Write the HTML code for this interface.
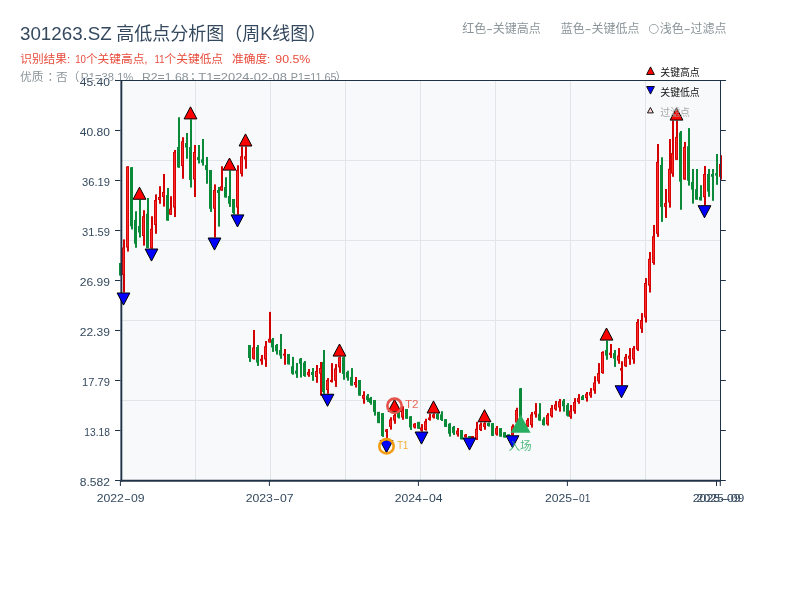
<!DOCTYPE html>
<html lang="zh"><head><meta charset="utf-8"><title>301263.SZ</title>
<style>
html,body{margin:0;padding:0;background:#fff;}
body{width:800px;height:600px;overflow:hidden;position:relative;font-family:"Liberation Sans","Noto Sans CJK SC",sans-serif;}
svg{position:absolute;left:0;top:0;}
text{font-family:"Liberation Sans","Noto Sans CJK SC",sans-serif;}
</style></head><body>
<svg width="800" height="600" viewBox="0 0 800 600">

<text y="39.6" font-size="18" fill="#34495e"><tspan x="20" textLength="91.8" lengthAdjust="spacingAndGlyphs">301263.SZ</tspan> <tspan x="116.2">高低点分析图（周K线图）</tspan></text>
<text y="63.4" font-size="11.7" fill="#e74c3c"><tspan x="20.2">识别结果:</tspan> <tspan x="75.2" textLength="10.8" lengthAdjust="spacingAndGlyphs">10</tspan><tspan x="85.9">个关键高点,</tspan> <tspan x="154.6" textLength="9.8" lengthAdjust="spacingAndGlyphs">11</tspan><tspan x="164.6">个关键低点</tspan>  <tspan x="232.0">准确度:</tspan> <tspan x="275.3" textLength="35" lengthAdjust="spacingAndGlyphs">90.5%</tspan></text>
<text y="80.8" font-size="11.7" fill="#8a9499"><tspan x="20">优质</tspan><tspan x="44.6" lang="zh-TW" font-family="Noto Sans CJK TC, sans-serif">：</tspan><tspan x="56.1">否（</tspan><tspan x="80.8" textLength="52.5" lengthAdjust="spacingAndGlyphs">R1=38.1%</tspan>  <tspan x="142" textLength="46.5" lengthAdjust="spacingAndGlyphs">R2=1.68</tspan><tspan x="187.0" lang="zh-TW" font-family="Noto Sans CJK TC, sans-serif">；</tspan><tspan x="198.3" textLength="88.5" lengthAdjust="spacingAndGlyphs">T1=2024-02-08</tspan> <tspan x="290.8" textLength="45.8" lengthAdjust="spacingAndGlyphs">P1=11.65</tspan><tspan x="335.3">）</tspan></text>
<text y="32.8" font-size="12" fill="#8a9499"><tspan x="462.2">红色</tspan><tspan textLength="6.6" lengthAdjust="spacingAndGlyphs">-</tspan><tspan>关键高点</tspan> <tspan x="560.8">蓝色</tspan><tspan textLength="6.6" lengthAdjust="spacingAndGlyphs">-</tspan><tspan>关键低点</tspan> <tspan x="648.0" y="31.9" font-family="DejaVu Sans, sans-serif" font-size="12.5">○</tspan><tspan y="32.8"> </tspan><tspan x="659.8">浅色</tspan><tspan textLength="6.8" lengthAdjust="spacingAndGlyphs">-</tspan><tspan>过滤点</tspan></text>
<rect x="120.4" y="80" width="600.6" height="401" fill="#f8f9fa"/>
<line x1="195.5" y1="81" x2="195.5" y2="480" stroke="#e1e5ea" stroke-width="1"/>
<line x1="270.5" y1="81" x2="270.5" y2="480" stroke="#e1e5ea" stroke-width="1"/>
<line x1="345.5" y1="81" x2="345.5" y2="480" stroke="#e1e5ea" stroke-width="1"/>
<line x1="420.5" y1="81" x2="420.5" y2="480" stroke="#e1e5ea" stroke-width="1"/>
<line x1="495.5" y1="81" x2="495.5" y2="480" stroke="#e1e5ea" stroke-width="1"/>
<line x1="570.5" y1="81" x2="570.5" y2="480" stroke="#e1e5ea" stroke-width="1"/>
<line x1="645.5" y1="81" x2="645.5" y2="480" stroke="#e1e5ea" stroke-width="1"/>
<line x1="122" y1="160.5" x2="720" y2="160.5" stroke="#e1e5ea" stroke-width="1"/>
<line x1="122" y1="240.5" x2="720" y2="240.5" stroke="#e1e5ea" stroke-width="1"/>
<line x1="122" y1="320.5" x2="720" y2="320.5" stroke="#e1e5ea" stroke-width="1"/>
<line x1="122" y1="400.5" x2="720" y2="400.5" stroke="#e1e5ea" stroke-width="1"/>
<g>
<rect x="120" y="263.00" width="2" height="12.60" fill="#0b8a3a"/>
<rect x="119" y="263.00" width="3" height="12.60" fill="#0b8a3a"/>
<rect x="123" y="239.40" width="2" height="53.10" fill="#d20000"/>
<rect x="122" y="247.50" width="3" height="27.50" fill="#d20000"/>
<rect x="122.9" y="248.50" width="1.2" height="25.50" fill="#fa2a2a"/>
<rect x="127" y="166.25" width="2" height="85.25" fill="#d20000"/>
<rect x="126" y="166.50" width="3" height="81.00" fill="#d20000"/>
<rect x="126.9" y="167.50" width="1.2" height="79.00" fill="#fa2a2a"/>
<rect x="131" y="167.25" width="2" height="62.15" fill="#0b8a3a"/>
<rect x="130" y="167.25" width="3" height="59.00" fill="#0b8a3a"/>
<rect x="135" y="211.25" width="2" height="36.50" fill="#0b8a3a"/>
<rect x="134" y="220.00" width="3" height="23.75" fill="#0b8a3a"/>
<rect x="139" y="199.75" width="2" height="37.75" fill="#0b8a3a"/>
<rect x="138" y="226.00" width="3" height="6.50" fill="#0b8a3a"/>
<rect x="143" y="210.25" width="2" height="35.35" fill="#d20000"/>
<rect x="142" y="216.25" width="3" height="19.75" fill="#d20000"/>
<rect x="142.9" y="217.25" width="1.2" height="17.75" fill="#fa2a2a"/>
<rect x="147" y="198.00" width="2" height="50.00" fill="#0b8a3a"/>
<rect x="146" y="213.75" width="3" height="34.25" fill="#0b8a3a"/>
<rect x="151" y="216.25" width="2" height="32.25" fill="#d20000"/>
<rect x="150" y="228.75" width="3" height="19.75" fill="#d20000"/>
<rect x="150.9" y="229.75" width="1.2" height="17.75" fill="#fa2a2a"/>
<rect x="155" y="194.40" width="2" height="39.35" fill="#d20000"/>
<rect x="154" y="200.00" width="3" height="25.00" fill="#d20000"/>
<rect x="154.9" y="201.00" width="1.2" height="23.00" fill="#fa2a2a"/>
<rect x="159" y="186.25" width="2" height="17.50" fill="#d20000"/>
<rect x="158" y="197.00" width="3" height="3.00" fill="#d20000"/>
<rect x="158.9" y="198.00" width="1.2" height="1.00" fill="#fa2a2a"/>
<rect x="163" y="174.00" width="2" height="32.60" fill="#d20000"/>
<rect x="162" y="192.00" width="3" height="5.00" fill="#d20000"/>
<rect x="162.9" y="193.00" width="1.2" height="3.00" fill="#fa2a2a"/>
<rect x="167" y="188.00" width="2" height="32.60" fill="#0b8a3a"/>
<rect x="166" y="195.00" width="3" height="25.60" fill="#0b8a3a"/>
<rect x="170" y="196.25" width="2" height="18.50" fill="#d20000"/>
<rect x="169" y="208.75" width="3" height="6.00" fill="#d20000"/>
<rect x="169.9" y="209.75" width="1.2" height="4.00" fill="#fa2a2a"/>
<rect x="174" y="150.00" width="2" height="67.00" fill="#d20000"/>
<rect x="173" y="152.00" width="3" height="55.50" fill="#d20000"/>
<rect x="173.9" y="153.00" width="1.2" height="53.50" fill="#fa2a2a"/>
<rect x="178" y="117.25" width="2" height="50.50" fill="#0b8a3a"/>
<rect x="177" y="147.00" width="3" height="20.50" fill="#0b8a3a"/>
<rect x="182" y="137.25" width="2" height="41.50" fill="#d20000"/>
<rect x="181" y="141.25" width="3" height="24.75" fill="#d20000"/>
<rect x="181.9" y="142.25" width="1.2" height="22.75" fill="#fa2a2a"/>
<rect x="186" y="133.00" width="2" height="25.75" fill="#0b8a3a"/>
<rect x="185" y="143.00" width="3" height="4.50" fill="#0b8a3a"/>
<rect x="190" y="119.40" width="2" height="68.10" fill="#0b8a3a"/>
<rect x="189" y="147.00" width="3" height="33.00" fill="#0b8a3a"/>
<rect x="194" y="145.00" width="2" height="52.00" fill="#d20000"/>
<rect x="193" y="152.00" width="3" height="27.40" fill="#d20000"/>
<rect x="193.9" y="153.00" width="1.2" height="25.40" fill="#fa2a2a"/>
<rect x="198" y="145.00" width="2" height="18.50" fill="#0b8a3a"/>
<rect x="197" y="157.00" width="3" height="3.00" fill="#0b8a3a"/>
<rect x="202" y="139.00" width="2" height="26.60" fill="#0b8a3a"/>
<rect x="201" y="159.40" width="3" height="3.35" fill="#0b8a3a"/>
<rect x="206" y="157.00" width="2" height="26.75" fill="#0b8a3a"/>
<rect x="205" y="165.00" width="3" height="5.00" fill="#0b8a3a"/>
<rect x="210" y="170.00" width="2" height="41.90" fill="#0b8a3a"/>
<rect x="209" y="170.00" width="3" height="38.75" fill="#0b8a3a"/>
<rect x="214" y="184.40" width="2" height="53.10" fill="#d20000"/>
<rect x="213" y="190.00" width="3" height="18.75" fill="#d20000"/>
<rect x="213.9" y="191.00" width="1.2" height="16.75" fill="#fa2a2a"/>
<rect x="218" y="187.00" width="2" height="39.60" fill="#0b8a3a"/>
<rect x="217" y="190.00" width="3" height="3.00" fill="#0b8a3a"/>
<rect x="221" y="166.25" width="2" height="24.35" fill="#d20000"/>
<rect x="220" y="186.25" width="3" height="4.35" fill="#d20000"/>
<rect x="220.9" y="187.25" width="1.2" height="2.35" fill="#fa2a2a"/>
<rect x="225" y="177.25" width="2" height="20.25" fill="#0b8a3a"/>
<rect x="224" y="187.00" width="3" height="10.50" fill="#0b8a3a"/>
<rect x="229" y="170.60" width="2" height="36.30" fill="#0b8a3a"/>
<rect x="228" y="196.00" width="3" height="7.75" fill="#0b8a3a"/>
<rect x="233" y="199.00" width="2" height="15.40" fill="#0b8a3a"/>
<rect x="232" y="199.00" width="3" height="14.00" fill="#0b8a3a"/>
<rect x="237" y="165.25" width="2" height="49.15" fill="#d20000"/>
<rect x="236" y="170.00" width="3" height="37.50" fill="#d20000"/>
<rect x="236.9" y="171.00" width="1.2" height="35.50" fill="#fa2a2a"/>
<rect x="241" y="146.50" width="2" height="30.00" fill="#d20000"/>
<rect x="240" y="156.25" width="3" height="17.50" fill="#d20000"/>
<rect x="240.9" y="157.25" width="1.2" height="15.50" fill="#fa2a2a"/>
<rect x="245" y="146.50" width="2" height="22.25" fill="#d20000"/>
<rect x="244" y="156.25" width="3" height="3.15" fill="#d20000"/>
<rect x="244.9" y="157.25" width="1.2" height="1.15" fill="#fa2a2a"/>
<rect x="249" y="345.00" width="2" height="16.90" fill="#0b8a3a"/>
<rect x="248" y="345.00" width="3" height="13.00" fill="#0b8a3a"/>
<rect x="253" y="330.00" width="2" height="29.60" fill="#d20000"/>
<rect x="252" y="347.50" width="3" height="11.25" fill="#d20000"/>
<rect x="252.9" y="348.50" width="1.2" height="9.25" fill="#fa2a2a"/>
<rect x="257" y="345.00" width="2" height="20.90" fill="#0b8a3a"/>
<rect x="256" y="347.00" width="3" height="15.50" fill="#0b8a3a"/>
<rect x="261" y="355.00" width="2" height="9.75" fill="#d20000"/>
<rect x="260" y="358.75" width="3" height="2.50" fill="#d20000"/>
<rect x="260.9" y="359.75" width="1.2" height="0.50" fill="#fa2a2a"/>
<rect x="265" y="341.00" width="2" height="25.90" fill="#d20000"/>
<rect x="264" y="346.25" width="3" height="13.15" fill="#d20000"/>
<rect x="264.9" y="347.25" width="1.2" height="11.15" fill="#fa2a2a"/>
<rect x="269" y="311.90" width="2" height="30.60" fill="#d20000"/>
<rect x="268" y="338.75" width="3" height="3.75" fill="#d20000"/>
<rect x="268.9" y="339.75" width="1.2" height="1.75" fill="#fa2a2a"/>
<rect x="272" y="338.00" width="2" height="13.90" fill="#0b8a3a"/>
<rect x="271" y="339.40" width="3" height="8.10" fill="#0b8a3a"/>
<rect x="276" y="344.00" width="2" height="10.60" fill="#0b8a3a"/>
<rect x="275" y="345.00" width="3" height="6.25" fill="#0b8a3a"/>
<rect x="280" y="334.00" width="2" height="24.75" fill="#0b8a3a"/>
<rect x="279" y="350.00" width="3" height="5.60" fill="#0b8a3a"/>
<rect x="284" y="349.00" width="2" height="15.75" fill="#d20000"/>
<rect x="283" y="353.75" width="3" height="1.85" fill="#d20000"/>
<rect x="288" y="354.00" width="2" height="10.40" fill="#0b8a3a"/>
<rect x="287" y="354.00" width="3" height="10.40" fill="#0b8a3a"/>
<rect x="292" y="356.90" width="2" height="17.85" fill="#0b8a3a"/>
<rect x="291" y="366.25" width="3" height="7.50" fill="#0b8a3a"/>
<rect x="296" y="363.00" width="2" height="14.90" fill="#0b8a3a"/>
<rect x="295" y="370.60" width="3" height="3.15" fill="#0b8a3a"/>
<rect x="300" y="358.00" width="2" height="19.50" fill="#0b8a3a"/>
<rect x="299" y="358.75" width="3" height="5.00" fill="#0b8a3a"/>
<rect x="304" y="361.00" width="2" height="15.80" fill="#0b8a3a"/>
<rect x="303" y="362.50" width="3" height="13.50" fill="#0b8a3a"/>
<rect x="308" y="369.00" width="2" height="7.80" fill="#d20000"/>
<rect x="307" y="372.00" width="3" height="3.20" fill="#d20000"/>
<rect x="307.9" y="373.00" width="1.2" height="1.20" fill="#fa2a2a"/>
<rect x="312" y="368.00" width="2" height="12.80" fill="#0b8a3a"/>
<rect x="311" y="372.00" width="3" height="3.00" fill="#0b8a3a"/>
<rect x="316" y="365.00" width="2" height="17.80" fill="#d20000"/>
<rect x="315" y="371.00" width="3" height="6.00" fill="#d20000"/>
<rect x="315.9" y="372.00" width="1.2" height="4.00" fill="#fa2a2a"/>
<rect x="320" y="362.00" width="2" height="33.60" fill="#d20000"/>
<rect x="319" y="368.00" width="3" height="5.75" fill="#d20000"/>
<rect x="319.9" y="369.00" width="1.2" height="3.75" fill="#fa2a2a"/>
<rect x="323" y="350.00" width="2" height="43.75" fill="#0b8a3a"/>
<rect x="322" y="362.00" width="3" height="30.00" fill="#0b8a3a"/>
<rect x="327" y="378.10" width="2" height="15.65" fill="#d20000"/>
<rect x="326" y="380.00" width="3" height="10.00" fill="#d20000"/>
<rect x="326.9" y="381.00" width="1.2" height="8.00" fill="#fa2a2a"/>
<rect x="331" y="363.10" width="2" height="19.40" fill="#d20000"/>
<rect x="330" y="380.00" width="3" height="2.00" fill="#d20000"/>
<rect x="335" y="364.10" width="2" height="22.80" fill="#d20000"/>
<rect x="334" y="368.50" width="3" height="12.20" fill="#d20000"/>
<rect x="334.9" y="369.50" width="1.2" height="10.20" fill="#fa2a2a"/>
<rect x="339" y="356.60" width="2" height="16.15" fill="#d20000"/>
<rect x="338" y="357.20" width="3" height="10.20" fill="#d20000"/>
<rect x="338.9" y="358.20" width="1.2" height="8.20" fill="#fa2a2a"/>
<rect x="343" y="356.60" width="2" height="23.15" fill="#0b8a3a"/>
<rect x="342" y="357.20" width="3" height="16.80" fill="#0b8a3a"/>
<rect x="347" y="370.70" width="2" height="10.00" fill="#0b8a3a"/>
<rect x="346" y="372.00" width="3" height="5.70" fill="#0b8a3a"/>
<rect x="351" y="368.10" width="2" height="17.50" fill="#0b8a3a"/>
<rect x="350" y="377.00" width="3" height="8.60" fill="#0b8a3a"/>
<rect x="355" y="377.00" width="2" height="10.50" fill="#d20000"/>
<rect x="354" y="382.00" width="3" height="3.00" fill="#d20000"/>
<rect x="354.9" y="383.00" width="1.2" height="1.00" fill="#fa2a2a"/>
<rect x="359" y="380.00" width="2" height="15.60" fill="#0b8a3a"/>
<rect x="358" y="380.00" width="3" height="15.60" fill="#0b8a3a"/>
<rect x="363" y="391.25" width="2" height="12.50" fill="#d20000"/>
<rect x="362" y="395.00" width="3" height="3.75" fill="#d20000"/>
<rect x="362.9" y="396.00" width="1.2" height="1.75" fill="#fa2a2a"/>
<rect x="367" y="394.00" width="2" height="7.90" fill="#0b8a3a"/>
<rect x="366" y="395.60" width="3" height="4.40" fill="#0b8a3a"/>
<rect x="370" y="396.90" width="2" height="7.85" fill="#0b8a3a"/>
<rect x="369" y="398.00" width="3" height="5.00" fill="#0b8a3a"/>
<rect x="374" y="400.00" width="2" height="15.60" fill="#0b8a3a"/>
<rect x="373" y="400.00" width="3" height="11.90" fill="#0b8a3a"/>
<rect x="378" y="411.90" width="2" height="11.20" fill="#0b8a3a"/>
<rect x="377" y="411.90" width="3" height="11.20" fill="#0b8a3a"/>
<rect x="382" y="413.10" width="2" height="23.80" fill="#0b8a3a"/>
<rect x="381" y="413.10" width="3" height="22.90" fill="#0b8a3a"/>
<rect x="386" y="429.00" width="2" height="11.10" fill="#d20000"/>
<rect x="385" y="429.40" width="3" height="2.50" fill="#d20000"/>
<rect x="385.9" y="430.40" width="1.2" height="0.50" fill="#fa2a2a"/>
<rect x="390" y="417.25" width="2" height="12.35" fill="#d20000"/>
<rect x="389" y="419.40" width="3" height="7.50" fill="#d20000"/>
<rect x="389.9" y="420.40" width="1.2" height="5.50" fill="#fa2a2a"/>
<rect x="394" y="412.00" width="2" height="11.75" fill="#d20000"/>
<rect x="393" y="415.00" width="3" height="5.60" fill="#d20000"/>
<rect x="393.9" y="416.00" width="1.2" height="3.60" fill="#fa2a2a"/>
<rect x="398" y="410.60" width="2" height="7.90" fill="#0b8a3a"/>
<rect x="397" y="412.00" width="3" height="5.50" fill="#0b8a3a"/>
<rect x="402" y="406.25" width="2" height="13.50" fill="#d20000"/>
<rect x="401" y="409.40" width="3" height="8.10" fill="#d20000"/>
<rect x="401.9" y="410.40" width="1.2" height="6.10" fill="#fa2a2a"/>
<rect x="406" y="409.00" width="2" height="9.75" fill="#0b8a3a"/>
<rect x="405" y="409.00" width="3" height="9.75" fill="#0b8a3a"/>
<rect x="410" y="416.25" width="2" height="13.75" fill="#0b8a3a"/>
<rect x="409" y="416.25" width="3" height="11.25" fill="#0b8a3a"/>
<rect x="414" y="423.10" width="2" height="5.40" fill="#d20000"/>
<rect x="413" y="423.75" width="3" height="3.75" fill="#d20000"/>
<rect x="413.9" y="424.75" width="1.2" height="1.75" fill="#fa2a2a"/>
<rect x="418" y="421.90" width="2" height="6.85" fill="#0b8a3a"/>
<rect x="417" y="421.90" width="3" height="6.85" fill="#0b8a3a"/>
<rect x="421" y="424.10" width="2" height="7.40" fill="#d20000"/>
<rect x="420" y="427.50" width="3" height="3.10" fill="#d20000"/>
<rect x="420.9" y="428.50" width="1.2" height="1.10" fill="#fa2a2a"/>
<rect x="425" y="418.75" width="2" height="11.85" fill="#d20000"/>
<rect x="424" y="421.25" width="3" height="8.75" fill="#d20000"/>
<rect x="424.9" y="422.25" width="1.2" height="6.75" fill="#fa2a2a"/>
<rect x="429" y="413.75" width="2" height="6.85" fill="#d20000"/>
<rect x="428" y="417.50" width="3" height="2.50" fill="#d20000"/>
<rect x="428.9" y="418.50" width="1.2" height="0.50" fill="#fa2a2a"/>
<rect x="433" y="413.50" width="2" height="5.00" fill="#d20000"/>
<rect x="432" y="414.40" width="3" height="3.10" fill="#d20000"/>
<rect x="432.9" y="415.40" width="1.2" height="1.10" fill="#fa2a2a"/>
<rect x="437" y="413.50" width="2" height="6.25" fill="#0b8a3a"/>
<rect x="436" y="414.00" width="3" height="5.00" fill="#0b8a3a"/>
<rect x="441" y="411.25" width="2" height="9.75" fill="#0b8a3a"/>
<rect x="440" y="414.40" width="3" height="5.60" fill="#0b8a3a"/>
<rect x="445" y="419.20" width="2" height="7.70" fill="#0b8a3a"/>
<rect x="444" y="419.20" width="3" height="7.70" fill="#0b8a3a"/>
<rect x="449" y="423.10" width="2" height="13.50" fill="#0b8a3a"/>
<rect x="448" y="423.75" width="3" height="10.00" fill="#0b8a3a"/>
<rect x="453" y="426.00" width="2" height="9.00" fill="#0b8a3a"/>
<rect x="452" y="426.90" width="3" height="6.20" fill="#0b8a3a"/>
<rect x="457" y="428.00" width="2" height="8.60" fill="#d20000"/>
<rect x="456" y="430.60" width="3" height="3.80" fill="#d20000"/>
<rect x="456.9" y="431.60" width="1.2" height="1.80" fill="#fa2a2a"/>
<rect x="461" y="430.00" width="2" height="9.40" fill="#0b8a3a"/>
<rect x="460" y="430.00" width="3" height="9.40" fill="#0b8a3a"/>
<rect x="465" y="434.00" width="2" height="3.50" fill="#d20000"/>
<rect x="464" y="434.50" width="3" height="2.50" fill="#d20000"/>
<rect x="464.9" y="435.50" width="1.2" height="0.50" fill="#fa2a2a"/>
<rect x="469" y="436.00" width="2" height="1.50" fill="#0b8a3a"/>
<rect x="468" y="436.00" width="3" height="1.50" fill="#0b8a3a"/>
<rect x="472" y="436.00" width="2" height="2.00" fill="#d20000"/>
<rect x="471" y="436.00" width="3" height="2.00" fill="#d20000"/>
<rect x="476" y="421.90" width="2" height="18.10" fill="#d20000"/>
<rect x="475" y="428.75" width="3" height="10.65" fill="#d20000"/>
<rect x="475.9" y="429.75" width="1.2" height="8.65" fill="#fa2a2a"/>
<rect x="480" y="422.50" width="2" height="8.50" fill="#d20000"/>
<rect x="479" y="424.40" width="3" height="5.60" fill="#d20000"/>
<rect x="479.9" y="425.40" width="1.2" height="3.60" fill="#fa2a2a"/>
<rect x="484" y="422.25" width="2" height="7.50" fill="#d20000"/>
<rect x="483" y="423.10" width="3" height="3.80" fill="#d20000"/>
<rect x="483.9" y="424.10" width="1.2" height="1.80" fill="#fa2a2a"/>
<rect x="488" y="422.50" width="2" height="4.10" fill="#0b8a3a"/>
<rect x="487" y="423.00" width="3" height="3.00" fill="#0b8a3a"/>
<rect x="492" y="423.10" width="2" height="12.80" fill="#0b8a3a"/>
<rect x="491" y="423.10" width="3" height="12.80" fill="#0b8a3a"/>
<rect x="496" y="426.00" width="2" height="9.60" fill="#d20000"/>
<rect x="495" y="428.10" width="3" height="6.30" fill="#d20000"/>
<rect x="495.9" y="429.10" width="1.2" height="4.30" fill="#fa2a2a"/>
<rect x="500" y="428.10" width="2" height="8.50" fill="#0b8a3a"/>
<rect x="499" y="428.10" width="3" height="8.50" fill="#0b8a3a"/>
<rect x="504" y="432.25" width="2" height="5.25" fill="#0b8a3a"/>
<rect x="503" y="432.25" width="3" height="5.25" fill="#0b8a3a"/>
<rect x="508" y="434.40" width="2" height="1.10" fill="#0b8a3a"/>
<rect x="507" y="434.40" width="3" height="1.10" fill="#0b8a3a"/>
<rect x="512" y="424.40" width="2" height="10.85" fill="#d20000"/>
<rect x="511" y="426.25" width="3" height="8.75" fill="#d20000"/>
<rect x="511.9" y="427.25" width="1.2" height="6.75" fill="#fa2a2a"/>
<rect x="516" y="407.75" width="2" height="14.75" fill="#d20000"/>
<rect x="515" y="410.00" width="3" height="12.50" fill="#d20000"/>
<rect x="515.9" y="411.00" width="1.2" height="10.50" fill="#fa2a2a"/>
<rect x="520" y="388.10" width="2" height="37.90" fill="#0b8a3a"/>
<rect x="519" y="388.30" width="3" height="36.70" fill="#0b8a3a"/>
<rect x="523" y="424.00" width="2" height="4.00" fill="#d20000"/>
<rect x="522" y="424.00" width="3" height="3.50" fill="#d20000"/>
<rect x="522.9" y="425.00" width="1.2" height="1.50" fill="#fa2a2a"/>
<rect x="527" y="418.10" width="2" height="8.90" fill="#d20000"/>
<rect x="526" y="420.00" width="3" height="6.00" fill="#d20000"/>
<rect x="526.9" y="421.00" width="1.2" height="4.00" fill="#fa2a2a"/>
<rect x="531" y="412.00" width="2" height="15.60" fill="#d20000"/>
<rect x="530" y="414.40" width="3" height="10.60" fill="#d20000"/>
<rect x="530.9" y="415.40" width="1.2" height="8.60" fill="#fa2a2a"/>
<rect x="535" y="403.10" width="2" height="14.50" fill="#d20000"/>
<rect x="534" y="411.25" width="3" height="3.15" fill="#d20000"/>
<rect x="534.9" y="412.25" width="1.2" height="1.15" fill="#fa2a2a"/>
<rect x="539" y="403.10" width="2" height="17.50" fill="#0b8a3a"/>
<rect x="538" y="413.75" width="3" height="6.85" fill="#0b8a3a"/>
<rect x="543" y="417.25" width="2" height="8.35" fill="#0b8a3a"/>
<rect x="542" y="419.40" width="3" height="5.60" fill="#0b8a3a"/>
<rect x="547" y="413.10" width="2" height="12.50" fill="#d20000"/>
<rect x="546" y="415.00" width="3" height="9.40" fill="#d20000"/>
<rect x="546.9" y="416.00" width="1.2" height="7.40" fill="#fa2a2a"/>
<rect x="551" y="405.00" width="2" height="12.50" fill="#d20000"/>
<rect x="550" y="408.10" width="3" height="8.15" fill="#d20000"/>
<rect x="550.9" y="409.10" width="1.2" height="6.15" fill="#fa2a2a"/>
<rect x="555" y="401.00" width="2" height="9.60" fill="#d20000"/>
<rect x="554" y="404.40" width="3" height="5.00" fill="#d20000"/>
<rect x="554.9" y="405.40" width="1.2" height="3.00" fill="#fa2a2a"/>
<rect x="559" y="399.00" width="2" height="12.60" fill="#d20000"/>
<rect x="558" y="401.25" width="3" height="6.25" fill="#d20000"/>
<rect x="558.9" y="402.25" width="1.2" height="4.25" fill="#fa2a2a"/>
<rect x="563" y="399.00" width="2" height="12.60" fill="#0b8a3a"/>
<rect x="562" y="400.60" width="3" height="5.65" fill="#0b8a3a"/>
<rect x="567" y="403.10" width="2" height="13.50" fill="#0b8a3a"/>
<rect x="566" y="405.00" width="3" height="10.60" fill="#0b8a3a"/>
<rect x="570" y="405.00" width="2" height="13.75" fill="#d20000"/>
<rect x="569" y="410.60" width="3" height="6.30" fill="#d20000"/>
<rect x="569.9" y="411.60" width="1.2" height="4.30" fill="#fa2a2a"/>
<rect x="574" y="398.10" width="2" height="15.65" fill="#d20000"/>
<rect x="573" y="401.90" width="3" height="9.35" fill="#d20000"/>
<rect x="573.9" y="402.90" width="1.2" height="7.35" fill="#fa2a2a"/>
<rect x="578" y="394.10" width="2" height="9.65" fill="#d20000"/>
<rect x="577" y="398.10" width="3" height="3.80" fill="#d20000"/>
<rect x="577.9" y="399.10" width="1.2" height="1.80" fill="#fa2a2a"/>
<rect x="582" y="395.00" width="2" height="5.00" fill="#0b8a3a"/>
<rect x="581" y="396.25" width="3" height="3.75" fill="#0b8a3a"/>
<rect x="586" y="392.00" width="2" height="9.60" fill="#d20000"/>
<rect x="585" y="393.75" width="3" height="4.35" fill="#d20000"/>
<rect x="585.9" y="394.75" width="1.2" height="2.35" fill="#fa2a2a"/>
<rect x="590" y="388.10" width="2" height="9.65" fill="#d20000"/>
<rect x="589" y="391.90" width="3" height="3.70" fill="#d20000"/>
<rect x="589.9" y="392.90" width="1.2" height="1.70" fill="#fa2a2a"/>
<rect x="594" y="376.25" width="2" height="17.50" fill="#d20000"/>
<rect x="593" y="382.50" width="3" height="8.10" fill="#d20000"/>
<rect x="593.9" y="383.50" width="1.2" height="6.10" fill="#fa2a2a"/>
<rect x="598" y="363.10" width="2" height="20.65" fill="#d20000"/>
<rect x="597" y="373.10" width="3" height="8.15" fill="#d20000"/>
<rect x="597.9" y="374.10" width="1.2" height="6.15" fill="#fa2a2a"/>
<rect x="602" y="351.25" width="2" height="22.50" fill="#d20000"/>
<rect x="601" y="352.00" width="3" height="21.00" fill="#d20000"/>
<rect x="601.9" y="353.00" width="1.2" height="19.00" fill="#fa2a2a"/>
<rect x="606" y="340.60" width="2" height="19.15" fill="#0b8a3a"/>
<rect x="605" y="350.00" width="3" height="5.60" fill="#0b8a3a"/>
<rect x="610" y="344.00" width="2" height="13.90" fill="#d20000"/>
<rect x="609" y="352.75" width="3" height="2.25" fill="#d20000"/>
<rect x="609.9" y="353.75" width="1.2" height="0.25" fill="#fa2a2a"/>
<rect x="614" y="350.00" width="2" height="16.90" fill="#0b8a3a"/>
<rect x="613" y="353.10" width="3" height="5.65" fill="#0b8a3a"/>
<rect x="618" y="348.10" width="2" height="15.65" fill="#d20000"/>
<rect x="617" y="355.60" width="3" height="5.00" fill="#d20000"/>
<rect x="617.9" y="356.60" width="1.2" height="3.00" fill="#fa2a2a"/>
<rect x="621" y="361.25" width="2" height="24.00" fill="#d20000"/>
<rect x="620" y="368.10" width="3" height="2.50" fill="#d20000"/>
<rect x="620.9" y="369.10" width="1.2" height="0.50" fill="#fa2a2a"/>
<rect x="625" y="354.00" width="2" height="12.90" fill="#d20000"/>
<rect x="624" y="356.90" width="3" height="9.35" fill="#d20000"/>
<rect x="624.9" y="357.90" width="1.2" height="7.35" fill="#fa2a2a"/>
<rect x="629" y="348.10" width="2" height="16.65" fill="#d20000"/>
<rect x="628" y="355.60" width="3" height="3.15" fill="#d20000"/>
<rect x="628.9" y="356.60" width="1.2" height="1.15" fill="#fa2a2a"/>
<rect x="633" y="346.00" width="2" height="17.75" fill="#d20000"/>
<rect x="632" y="348.10" width="3" height="11.30" fill="#d20000"/>
<rect x="632.9" y="349.10" width="1.2" height="9.30" fill="#fa2a2a"/>
<rect x="637" y="319.10" width="2" height="31.80" fill="#d20000"/>
<rect x="636" y="322.00" width="3" height="27.40" fill="#d20000"/>
<rect x="636.9" y="323.00" width="1.2" height="25.40" fill="#fa2a2a"/>
<rect x="641" y="313.10" width="2" height="19.80" fill="#d20000"/>
<rect x="640" y="320.00" width="3" height="8.75" fill="#d20000"/>
<rect x="640.9" y="321.00" width="1.2" height="6.75" fill="#fa2a2a"/>
<rect x="645" y="278.10" width="2" height="44.40" fill="#d20000"/>
<rect x="644" y="283.00" width="3" height="34.50" fill="#d20000"/>
<rect x="644.9" y="284.00" width="1.2" height="32.50" fill="#fa2a2a"/>
<rect x="649" y="252.00" width="2" height="40.50" fill="#d20000"/>
<rect x="648" y="258.75" width="3" height="26.85" fill="#d20000"/>
<rect x="648.9" y="259.75" width="1.2" height="24.85" fill="#fa2a2a"/>
<rect x="653" y="225.00" width="2" height="39.75" fill="#d20000"/>
<rect x="652" y="236.25" width="3" height="26.75" fill="#d20000"/>
<rect x="652.9" y="237.25" width="1.2" height="24.75" fill="#fa2a2a"/>
<rect x="657" y="144.00" width="2" height="92.90" fill="#d20000"/>
<rect x="656" y="161.90" width="3" height="71.85" fill="#d20000"/>
<rect x="656.9" y="162.90" width="1.2" height="69.85" fill="#fa2a2a"/>
<rect x="661" y="157.25" width="2" height="64.65" fill="#0b8a3a"/>
<rect x="660" y="165.00" width="3" height="41.90" fill="#0b8a3a"/>
<rect x="665" y="189.00" width="2" height="28.90" fill="#d20000"/>
<rect x="664" y="203.10" width="3" height="3.80" fill="#d20000"/>
<rect x="664.9" y="204.10" width="1.2" height="1.80" fill="#fa2a2a"/>
<rect x="669" y="139.00" width="2" height="68.60" fill="#d20000"/>
<rect x="668" y="168.75" width="3" height="33.75" fill="#d20000"/>
<rect x="668.9" y="169.75" width="1.2" height="31.75" fill="#fa2a2a"/>
<rect x="672" y="120.60" width="2" height="56.20" fill="#d20000"/>
<rect x="671" y="153.10" width="3" height="20.50" fill="#d20000"/>
<rect x="671.9" y="154.10" width="1.2" height="18.50" fill="#fa2a2a"/>
<rect x="676" y="120.60" width="2" height="39.15" fill="#d20000"/>
<rect x="675" y="136.90" width="3" height="22.85" fill="#d20000"/>
<rect x="675.9" y="137.90" width="1.2" height="20.85" fill="#fa2a2a"/>
<rect x="680" y="131.00" width="2" height="78.75" fill="#0b8a3a"/>
<rect x="679" y="132.50" width="3" height="49.10" fill="#0b8a3a"/>
<rect x="684" y="141.90" width="2" height="37.70" fill="#d20000"/>
<rect x="683" y="146.90" width="3" height="32.70" fill="#d20000"/>
<rect x="683.9" y="147.90" width="1.2" height="30.70" fill="#fa2a2a"/>
<rect x="688" y="128.10" width="2" height="57.50" fill="#0b8a3a"/>
<rect x="687" y="146.25" width="3" height="34.55" fill="#0b8a3a"/>
<rect x="692" y="169.00" width="2" height="34.60" fill="#0b8a3a"/>
<rect x="691" y="182.00" width="3" height="7.60" fill="#0b8a3a"/>
<rect x="696" y="169.00" width="2" height="30.60" fill="#0b8a3a"/>
<rect x="695" y="189.20" width="3" height="10.40" fill="#0b8a3a"/>
<rect x="700" y="185.20" width="2" height="15.20" fill="#0b8a3a"/>
<rect x="699" y="196.80" width="3" height="3.60" fill="#0b8a3a"/>
<rect x="704" y="166.00" width="2" height="39.20" fill="#d20000"/>
<rect x="703" y="174.00" width="3" height="23.20" fill="#d20000"/>
<rect x="703.9" y="175.00" width="1.2" height="21.20" fill="#fa2a2a"/>
<rect x="708" y="169.00" width="2" height="27.80" fill="#0b8a3a"/>
<rect x="707" y="174.00" width="3" height="17.60" fill="#0b8a3a"/>
<rect x="712" y="169.00" width="2" height="31.80" fill="#0b8a3a"/>
<rect x="711" y="174.00" width="3" height="2.80" fill="#0b8a3a"/>
<rect x="716" y="154.00" width="2" height="30.80" fill="#0b8a3a"/>
<rect x="715" y="173.20" width="3" height="2.40" fill="#0b8a3a"/>
<rect x="720" y="155.20" width="2" height="24.40" fill="#d20000"/>
<rect x="719" y="164.00" width="3" height="12.80" fill="#d20000"/>
<rect x="719.9" y="165.00" width="1.2" height="10.80" fill="#fa2a2a"/>
</g>
<line x1="121.35" y1="80" x2="121.35" y2="481.6" stroke="#1f3248" stroke-width="1.9"/>
<line x1="120.4" y1="480.8" x2="721" y2="480.8" stroke="#1f3248" stroke-width="1.9"/>
<line x1="120.4" y1="80.5" x2="725.8" y2="80.5" stroke="#1f3248" stroke-width="1"/>
<line x1="720.5" y1="80" x2="720.5" y2="481" stroke="#1f3248" stroke-width="1"/>
<line x1="115" y1="80.5" x2="120.4" y2="80.5" stroke="#1f3248" stroke-width="1"/>
<line x1="720.5" y1="80.5" x2="725.8" y2="80.5" stroke="#1f3248" stroke-width="1"/>
<text x="79.7" y="86.3" font-size="11.5" fill="#34495e" stroke="#fff" stroke-width="1.6" paint-order="stroke" textLength="30.2" lengthAdjust="spacingAndGlyphs">45.40</text>
<line x1="115" y1="130.5" x2="120.4" y2="130.5" stroke="#1f3248" stroke-width="1"/>
<line x1="720.5" y1="130.5" x2="725.8" y2="130.5" stroke="#1f3248" stroke-width="1"/>
<text x="79.7" y="136.3" font-size="11.5" fill="#34495e" stroke="#fff" stroke-width="1.6" paint-order="stroke" textLength="30.2" lengthAdjust="spacingAndGlyphs">40.80</text>
<line x1="115" y1="180.5" x2="120.4" y2="180.5" stroke="#1f3248" stroke-width="1"/>
<line x1="720.5" y1="180.5" x2="725.8" y2="180.5" stroke="#1f3248" stroke-width="1"/>
<text x="82.0" y="186.3" font-size="11.5" fill="#34495e" stroke="#fff" stroke-width="1.6" paint-order="stroke" textLength="27.9" lengthAdjust="spacingAndGlyphs">36.19</text>
<line x1="115" y1="230.5" x2="120.4" y2="230.5" stroke="#1f3248" stroke-width="1"/>
<line x1="720.5" y1="230.5" x2="725.8" y2="230.5" stroke="#1f3248" stroke-width="1"/>
<text x="82.0" y="236.3" font-size="11.5" fill="#34495e" stroke="#fff" stroke-width="1.6" paint-order="stroke" textLength="27.9" lengthAdjust="spacingAndGlyphs">31.59</text>
<line x1="115" y1="280.5" x2="120.4" y2="280.5" stroke="#1f3248" stroke-width="1"/>
<line x1="720.5" y1="280.5" x2="725.8" y2="280.5" stroke="#1f3248" stroke-width="1"/>
<text x="79.7" y="286.3" font-size="11.5" fill="#34495e" stroke="#fff" stroke-width="1.6" paint-order="stroke" textLength="30.2" lengthAdjust="spacingAndGlyphs">26.99</text>
<line x1="115" y1="330.5" x2="120.4" y2="330.5" stroke="#1f3248" stroke-width="1"/>
<line x1="720.5" y1="330.5" x2="725.8" y2="330.5" stroke="#1f3248" stroke-width="1"/>
<text x="79.7" y="336.3" font-size="11.5" fill="#34495e" stroke="#fff" stroke-width="1.6" paint-order="stroke" textLength="30.2" lengthAdjust="spacingAndGlyphs">22.39</text>
<line x1="115" y1="380.5" x2="120.4" y2="380.5" stroke="#1f3248" stroke-width="1"/>
<line x1="720.5" y1="380.5" x2="725.8" y2="380.5" stroke="#1f3248" stroke-width="1"/>
<text x="82.0" y="386.3" font-size="11.5" fill="#34495e" stroke="#fff" stroke-width="1.6" paint-order="stroke" textLength="27.9" lengthAdjust="spacingAndGlyphs">17.79</text>
<line x1="115" y1="430.5" x2="120.4" y2="430.5" stroke="#1f3248" stroke-width="1"/>
<line x1="720.5" y1="430.5" x2="725.8" y2="430.5" stroke="#1f3248" stroke-width="1"/>
<text x="84.3" y="436.3" font-size="11.5" fill="#34495e" stroke="#fff" stroke-width="1.6" paint-order="stroke" textLength="25.6" lengthAdjust="spacingAndGlyphs">13.18</text>
<line x1="115" y1="480.5" x2="120.4" y2="480.5" stroke="#1f3248" stroke-width="1"/>
<line x1="720.5" y1="480.5" x2="725.8" y2="480.5" stroke="#1f3248" stroke-width="1"/>
<text x="79.7" y="486.3" font-size="11.5" fill="#34495e" stroke="#fff" stroke-width="1.6" paint-order="stroke" textLength="30.2" lengthAdjust="spacingAndGlyphs">8.582</text>
<line x1="120.4" y1="481" x2="120.4" y2="486" stroke="#1f3248" stroke-width="1"/>
<text x="96.7" y="502.0" font-size="11.5" fill="#34495e"><tspan textLength="27.2" lengthAdjust="spacingAndGlyphs">2022</tspan><tspan textLength="7.0" lengthAdjust="spacingAndGlyphs">-</tspan><tspan textLength="13.6" lengthAdjust="spacingAndGlyphs">09</tspan></text>
<line x1="269.4" y1="481" x2="269.4" y2="486" stroke="#1f3248" stroke-width="1"/>
<text x="245.7" y="502.0" font-size="11.5" fill="#34495e"><tspan textLength="27.2" lengthAdjust="spacingAndGlyphs">2023</tspan><tspan textLength="7.0" lengthAdjust="spacingAndGlyphs">-</tspan><tspan textLength="13.6" lengthAdjust="spacingAndGlyphs">07</tspan></text>
<line x1="418.4" y1="481" x2="418.4" y2="486" stroke="#1f3248" stroke-width="1"/>
<text x="394.7" y="502.0" font-size="11.5" fill="#34495e"><tspan textLength="27.2" lengthAdjust="spacingAndGlyphs">2024</tspan><tspan textLength="7.0" lengthAdjust="spacingAndGlyphs">-</tspan><tspan textLength="13.6" lengthAdjust="spacingAndGlyphs">04</tspan></text>
<line x1="567.4" y1="481" x2="567.4" y2="486" stroke="#1f3248" stroke-width="1"/>
<text x="544.9" y="502.0" font-size="11.5" fill="#34495e"><tspan textLength="27.2" lengthAdjust="spacingAndGlyphs">2025</tspan><tspan textLength="7.0" lengthAdjust="spacingAndGlyphs">-</tspan><tspan textLength="11.3" lengthAdjust="spacingAndGlyphs">01</tspan></text>
<line x1="716.5" y1="481" x2="716.5" y2="486" stroke="#1f3248" stroke-width="1"/>
<text x="692.8" y="502.0" font-size="11.5" fill="#34495e"><tspan textLength="27.2" lengthAdjust="spacingAndGlyphs">2025</tspan><tspan textLength="7.0" lengthAdjust="spacingAndGlyphs">-</tspan><tspan textLength="13.6" lengthAdjust="spacingAndGlyphs">09</tspan></text>
<line x1="720.3" y1="481" x2="720.3" y2="486" stroke="#1f3248" stroke-width="1"/>
<text x="696.6" y="502.0" font-size="11.5" fill="#34495e"><tspan textLength="27.2" lengthAdjust="spacingAndGlyphs">2025</tspan><tspan textLength="7.0" lengthAdjust="spacingAndGlyphs">-</tspan><tspan textLength="13.6" lengthAdjust="spacingAndGlyphs">09</tspan></text>
<g>
<path d="M139.50 187.15 L145.90 199.25 L133.10 199.25 Z" fill="#ff0000" stroke="#000" stroke-width="1" stroke-linejoin="miter"/>
<path d="M190.50 106.80 L196.90 118.90 L184.10 118.90 Z" fill="#ff0000" stroke="#000" stroke-width="1" stroke-linejoin="miter"/>
<path d="M229.50 158.00 L235.90 170.10 L223.10 170.10 Z" fill="#ff0000" stroke="#000" stroke-width="1" stroke-linejoin="miter"/>
<path d="M245.50 133.90 L251.90 146.00 L239.10 146.00 Z" fill="#ff0000" stroke="#000" stroke-width="1" stroke-linejoin="miter"/>
<path d="M339.50 344.00 L345.90 356.10 L333.10 356.10 Z" fill="#ff0000" stroke="#000" stroke-width="1" stroke-linejoin="miter"/>
<path d="M394.50 399.40 L400.90 411.50 L388.10 411.50 Z" fill="#ff0000" stroke="#000" stroke-width="1" stroke-linejoin="miter"/>
<path d="M433.50 400.90 L439.90 413.00 L427.10 413.00 Z" fill="#ff0000" stroke="#000" stroke-width="1" stroke-linejoin="miter"/>
<path d="M484.50 409.65 L490.90 421.75 L478.10 421.75 Z" fill="#ff0000" stroke="#000" stroke-width="1" stroke-linejoin="miter"/>
<path d="M606.50 328.00 L612.90 340.10 L600.10 340.10 Z" fill="#ff0000" stroke="#000" stroke-width="1" stroke-linejoin="miter"/>
<path d="M676.50 108.00 L682.90 120.10 L670.10 120.10 Z" fill="#ff0000" stroke="#000" stroke-width="1" stroke-linejoin="miter"/>
<path d="M123.50 305.10 L129.90 293.00 L117.10 293.00 Z" fill="#0000ff" stroke="#000" stroke-width="1" stroke-linejoin="miter"/>
<path d="M151.50 261.10 L157.90 249.00 L145.10 249.00 Z" fill="#0000ff" stroke="#000" stroke-width="1" stroke-linejoin="miter"/>
<path d="M214.50 250.10 L220.90 238.00 L208.10 238.00 Z" fill="#0000ff" stroke="#000" stroke-width="1" stroke-linejoin="miter"/>
<path d="M237.50 227.00 L243.90 214.90 L231.10 214.90 Z" fill="#0000ff" stroke="#000" stroke-width="1" stroke-linejoin="miter"/>
<path d="M327.50 406.35 L333.90 394.25 L321.10 394.25 Z" fill="#0000ff" stroke="#000" stroke-width="1" stroke-linejoin="miter"/>
<path d="M386.50 452.70 L392.90 440.60 L380.10 440.60 Z" fill="#0000ff" stroke="#000" stroke-width="1" stroke-linejoin="miter"/>
<path d="M421.50 444.10 L427.90 432.00 L415.10 432.00 Z" fill="#0000ff" stroke="#000" stroke-width="1" stroke-linejoin="miter"/>
<path d="M469.50 450.10 L475.90 438.00 L463.10 438.00 Z" fill="#0000ff" stroke="#000" stroke-width="1" stroke-linejoin="miter"/>
<path d="M512.50 447.85 L518.90 435.75 L506.10 435.75 Z" fill="#0000ff" stroke="#000" stroke-width="1" stroke-linejoin="miter"/>
<path d="M621.50 397.85 L627.90 385.75 L615.10 385.75 Z" fill="#0000ff" stroke="#000" stroke-width="1" stroke-linejoin="miter"/>
<path d="M704.50 217.80 L710.90 205.70 L698.10 205.70 Z" fill="#0000ff" stroke="#000" stroke-width="1" stroke-linejoin="miter"/>
<circle cx="394.50" cy="405.80" r="7.2" fill="none" stroke="#e5534a" stroke-width="2.6"/>
<text x="405" y="407.7" font-size="11.5" fill="#e74c3c" fill-opacity="0.85" textLength="13.6" lengthAdjust="spacingAndGlyphs">T2</text>
<circle cx="386.50" cy="446.30" r="7.2" fill="none" stroke="#f39c12" stroke-width="2.6"/>
<text x="397.3" y="448.9" font-size="11.5" fill="#f39c12" fill-opacity="0.85" textLength="11" lengthAdjust="spacingAndGlyphs">T1</text>
<path d="M520.6 414.4 L530.6 432.75 L510.6 432.75 Z" fill="#27ae60"/>
<text x="508.4" y="450.2" font-size="11.6" fill="#27ae60" fill-opacity="0.8">入场</text>
</g>
<path d="M650.5 66.9 L654.4 74.5 L646.6 74.5 Z" fill="#ff0000" stroke="#000" stroke-width="0.9"/>
<text x="660.3" y="76.3" font-size="9.85" fill="#111">关键高点</text>
<path d="M650.5 94.1 L654.4 86.5 L646.6 86.5 Z" fill="#0000ff" stroke="#000" stroke-width="0.9"/>
<text x="660.3" y="96.3" font-size="9.85" fill="#111">关键低点</text>
<path d="M650.4 107.5 L653.3 112.9 L647.5 112.9 Z" fill="#ffd6d6" stroke="#000" stroke-width="0.9"/>
<text x="660.3" y="116.3" font-size="9.85" fill="#a8a8a8">过滤点</text>
</svg></body></html>
